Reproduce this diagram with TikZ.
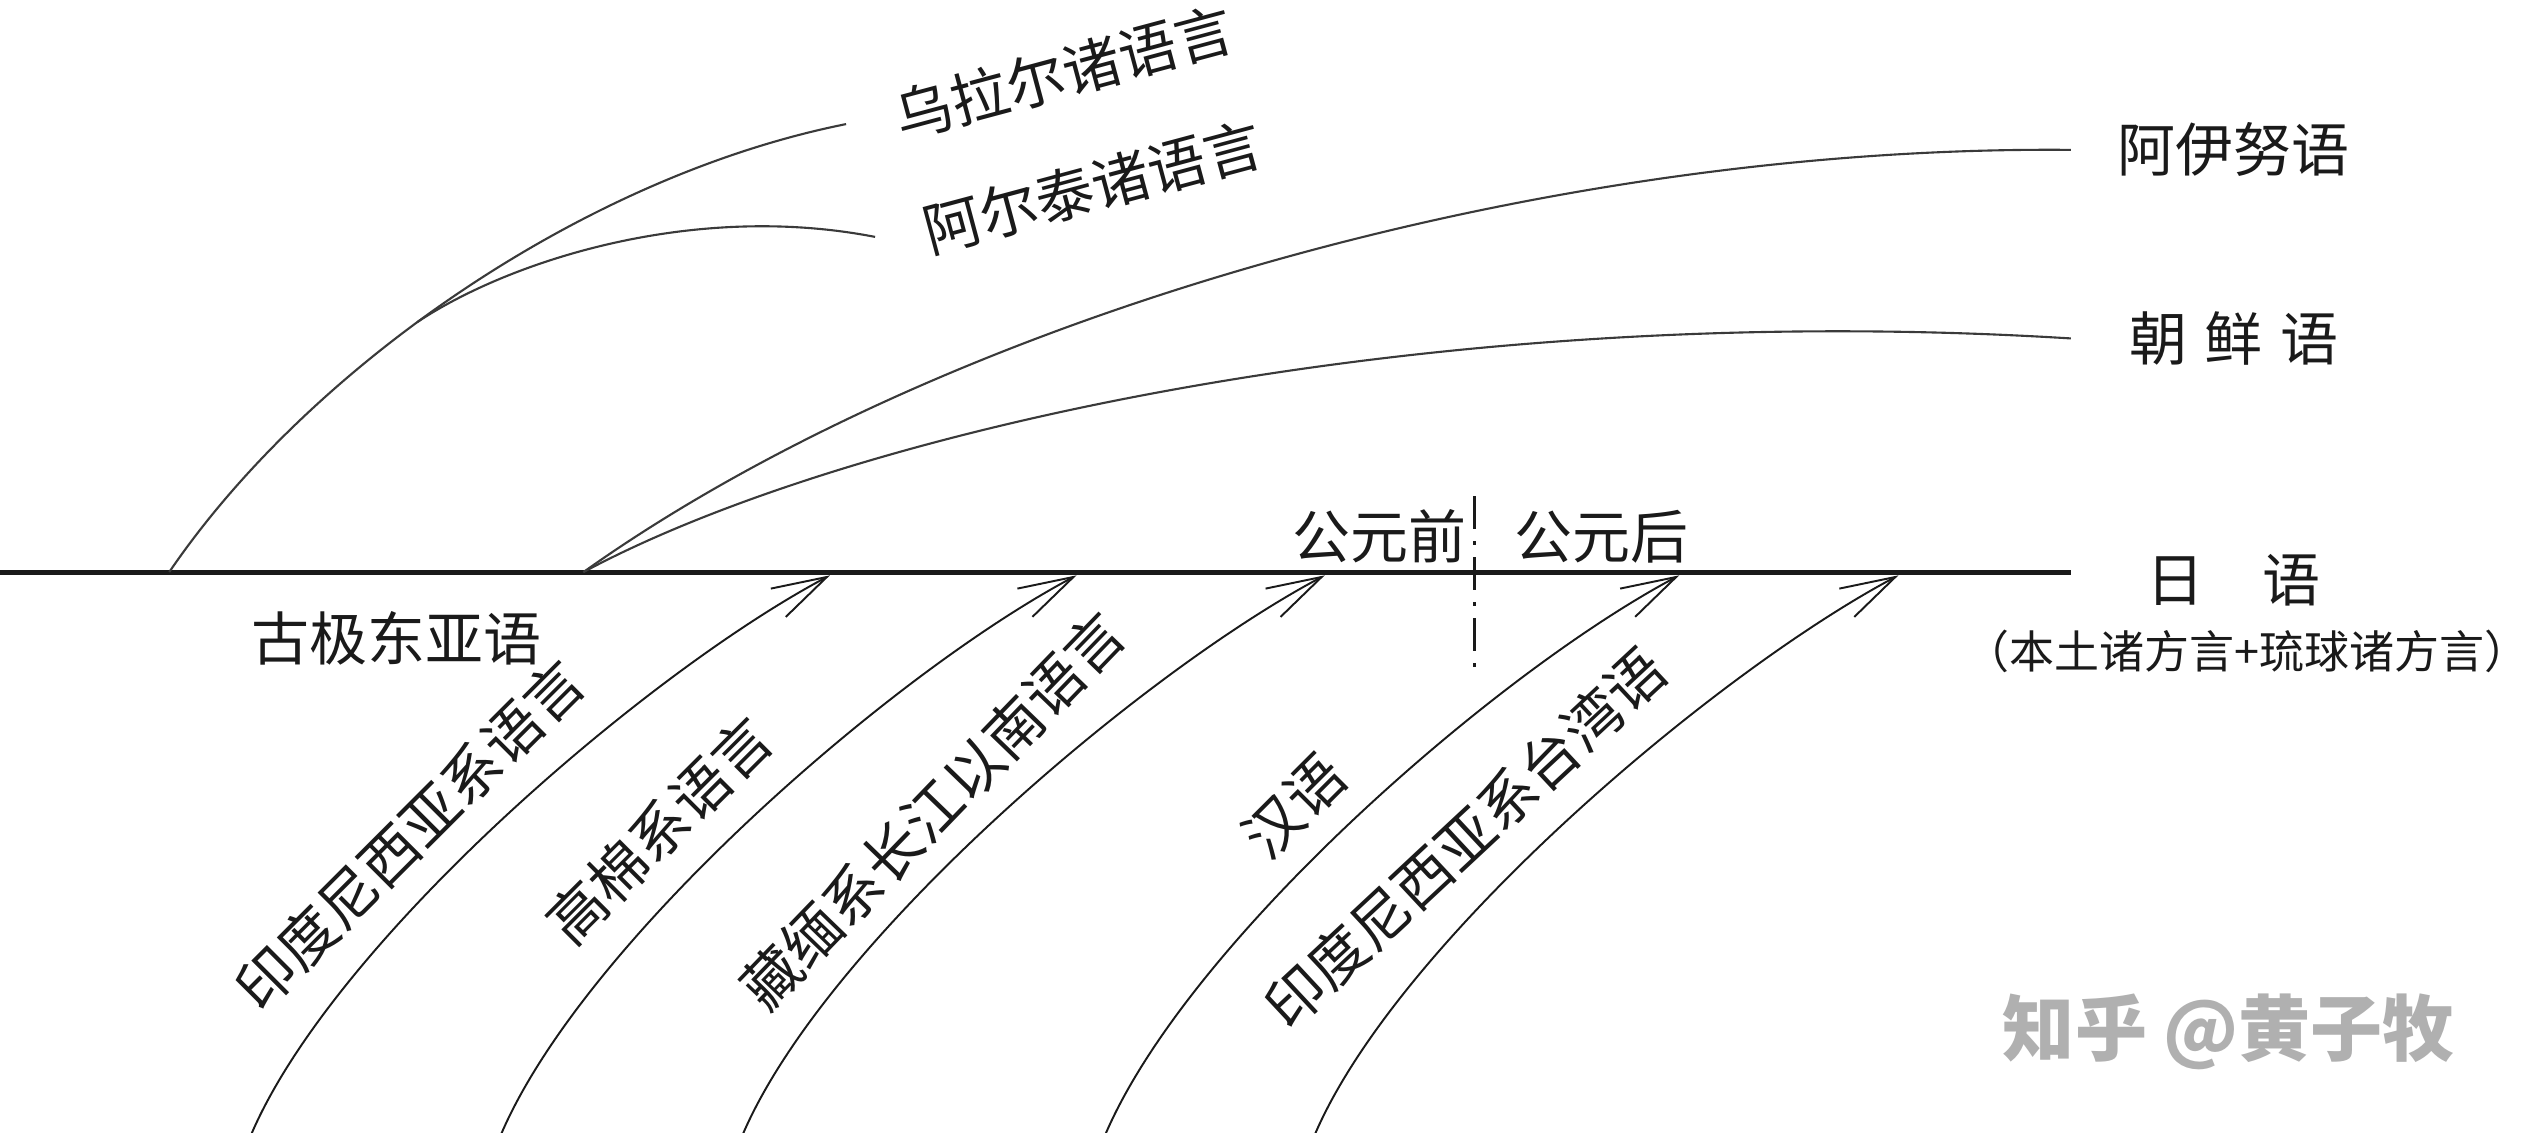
\documentclass[tikz,border=0pt]{standalone}
\usepackage{fontspec}
\setmainfont{Noto Sans CJK SC}
\usepackage{tikz}
\usetikzlibrary{arrows.meta,calc}
\definecolor{INK}{HTML}{1A1A1A}
\definecolor{CURVE}{HTML}{3A3A3A}
\definecolor{MARK}{HTML}{B0B0B0}

\begin{document}
\begin{tikzpicture}[x=0.16116mm,y=-0.16116mm]
\tikzset{lbl/.style={font=\fontsize{16.5}{20}\selectfont,text=INK,inner sep=0pt},
 sublbl/.style={font=\fontsize{12.8}{15}\selectfont,text=INK,inner sep=0pt},
 branch/.style={CURVE,line width=0.6pt},
 inflow/.style={INK,line width=0.55pt,-{Straight Barb[length=5.5mm,width=3.2mm]}},
 axisln/.style={INK,line width=1.4pt},
 era/.style={INK,line width=0.8pt,dash pattern=on 3.3mm off 1.2mm on 0.4mm off 1.2mm},
 wm/.style={font=\fontsize{20.5}{24}\selectfont\bfseries,text=MARK,inner sep=0pt}}
\fill[white] (0,0) rectangle (1568,703);
\useasboundingbox (0,0) rectangle (1568,703);
% main line
\coordinate (L0) at (0,355);
\coordinate (L1) at (1285,355);
\draw[axisln] (L0) -- (L1);
\node[lbl] (ja) at (1386,360) {日\hspace{1em}语};
\node[sublbl] (jadial) at (1394,404) {（本土诸方言+琉球诸方言）};
\node[lbl] (old) at (246,396) {古极东亚语};
% era divider
\coordinate (dtop) at (915,308);
\coordinate (dbot) at (915,416);
\draw[era] (dtop) -- (dbot);
\node[lbl] (bce) at (856,333) {公元前};
\node[lbl] (ce) at (994,333) {公元后};
% branches going up
\coordinate (o1) at (105,355);
\coordinate (o2) at (362,355);
\coordinate (eU) at (525,77);
\coordinate (eA) at (543,147);
\coordinate (eI) at (1285,93);
\coordinate (eK) at (1285,210);
\draw[branch] (o1) .. controls (190,230) and (360,110) .. (eU) coordinate[pos=0.44] (fork);
\draw[branch] (fork) .. controls ($(fork)+(57,-38)$) and (430,125) .. (eA);
\draw[branch] (o2) .. controls (580,200) and (950,90) .. (eI);
\draw[branch] (o2) .. controls (520,270) and (880,185) .. (eK);
\node[lbl,rotate=15] (ural) at (660,45) {乌拉尔诸语言};
\node[lbl,rotate=15] (altai) at (678,116) {阿尔泰诸语言};
\node[lbl] (ainu) at (1386,93) {阿伊努语};
\node[lbl] (kor) at (1386,210) {朝\hspace{.3em}鲜\hspace{.3em}语};
% influences from below
\foreach \n/\xs/\xe in {1/155/515,2/310/668,3/460/822,4/685/1042,5/815/1178}{
  \coordinate (s\n) at (\xs,706);
  \coordinate (t\n) at (\xe,357);
  \draw[inflow] (s\n) .. controls ($(s\n)+(50,-120)$) and ($(t\n)+(-115,61)$) .. (t\n);
}
\node[lbl,rotate=45] (indo) at (254,518) {印度尼西亚系语言};
\node[lbl,rotate=45] (khmer) at (409,515) {高棉系语言};
\node[lbl,rotate=46] (tibet) at (579,503) {藏缅系长江以南语言};
\node[lbl,rotate=45] (han) at (803,500) {汉语};
\node[lbl,rotate=43] (taiwan) at (909,520) {印度尼西亚系台湾语};
\node[wm] (zhihu) at (1383,640) {知乎 @黄子牧};
\end{tikzpicture}
\end{document}
